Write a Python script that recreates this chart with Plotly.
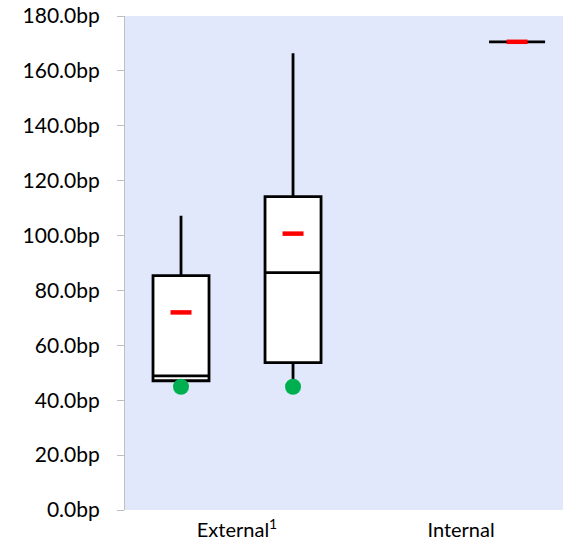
import plotly.graph_objects as go

# Box positions on a numeric x axis (one slot per unit)
positions = [0, 1, 3]
q1 = [47.1, 53.7, 170.6]
median = [48.9, 86.5, 170.6]
q3 = [85.4, 114.2, 170.6]
lower_fence = [47.1, 47.5, 170.6]
upper_fence = [107.2, 166.4, 170.6]
mean = [72.0, 100.7, 170.6]

# Green markers under the external boxes
dot_x = [0, 1]
dot_y = [44.9, 44.9]

# Group labels
group_ticks = [0.5, 2.5]
group_labels = ["External<sup>1</sup>", "Internal"]

FONT = "Lato"

fig = go.Figure()

for i, x in enumerate(positions):
    fig.add_trace(go.Box(
        x=[x],
        q1=[q1[i]], median=[median[i]], q3=[q3[i]],
        lowerfence=[lower_fence[i]], upperfence=[upper_fence[i]],
        width=0.5,
        whiskerwidth=0,
        fillcolor="white",
        line=dict(color="black", width=2.8),
        boxpoints=False,
        showlegend=False,
        hoverinfo="skip",
    ))

fig.add_trace(go.Scatter(
    x=positions, y=mean, mode="markers",
    marker=dict(symbol="line-ew", size=15,
                line=dict(color="#FF0000", width=4.5)),
    showlegend=False, hoverinfo="skip",
))

fig.add_trace(go.Scatter(
    x=dot_x, y=dot_y, mode="markers",
    marker=dict(symbol="circle", size=16, color="#00B050"),
    showlegend=False, hoverinfo="skip",
))

fig.update_layout(
    width=563, height=544,
    margin=dict(l=125, r=0, t=16, b=34),
    paper_bgcolor="white",
    plot_bgcolor="#E1E8FB",
    font=dict(family=FONT, size=21, color="black"),
    xaxis=dict(
        range=[-0.5, 3.41],
        tickvals=group_ticks, ticktext=group_labels,
        ticks="", showline=False, showgrid=False, zeroline=False,
        tickfont=dict(size=20),
        ticklabelstandoff=6,
    ),
    yaxis=dict(
        range=[0, 180], dtick=20, tick0=0,
        tickformat=".1f", ticksuffix="bp",
        showline=True, linecolor="#BFBFBF", linewidth=1,
        ticks="outside", ticklen=7, tickcolor="#BFBFBF",
        showgrid=False, zeroline=False,
        tickfont=dict(size=21),
        ticklabelstandoff=13,
    ),
)

fig.write_html("out.html")
